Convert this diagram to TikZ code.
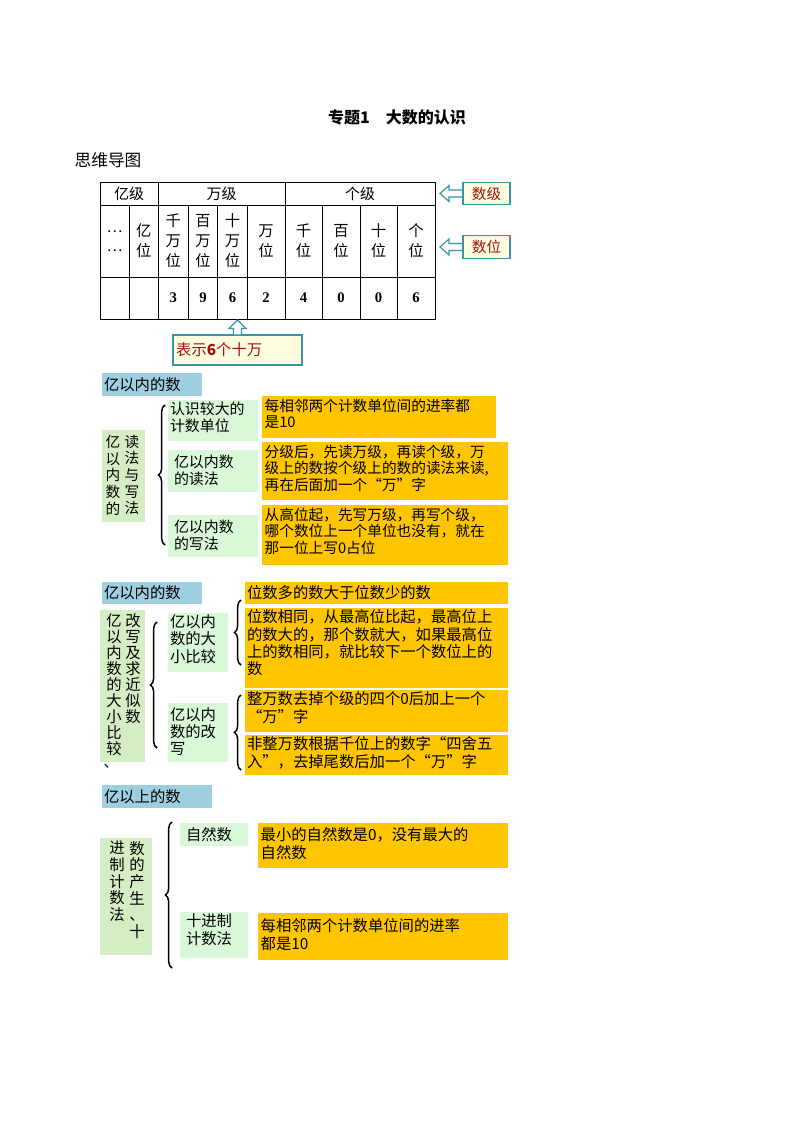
\documentclass[tikz,border=0pt]{standalone}
\usepackage{fontspec}
\usepackage{tikz}
\usetikzlibrary{fit,decorations.pathreplacing}
\setmainfont{Liberation Serif}
\newfontfamily\cjk{Noto Sans CJK SC}
\definecolor{TitleBlue}{HTML}{9DCFE0}
\definecolor{SideGreen}{HTML}{D5EDC4}
\definecolor{SubGreen}{HTML}{D8F8D8}
\definecolor{NoteGold}{HTML}{FFC600}
\definecolor{ArrowTeal}{HTML}{3A93A8}
\definecolor{NoteRed}{HTML}{A01010}
\newcommand\areabox[6]{\node[fit={(#2,#3) (#4,#5)}, inner sep=0pt, #6] (#1) {};}
\begin{document}
\begin{tikzpicture}[x=0.75pt, y=-0.75pt,
		grid/.style={draw, line width=0.6pt},
		headbox/.style={fill=TitleBlue},
		sidebox/.style={fill=SideGreen},
		subbox/.style={fill=SubGreen},
		notebox/.style={fill=NoteGold},
		txt/.style={font=\cjk\fontsize{11.2}{13}\selectfont, inner sep=1.5pt, align=left},
		notetxt/.style={font=\cjk\fontsize{11}{12.6}\selectfont, inner sep=2pt, align=left},
		bignote/.style={font=\cjk\fontsize{11.5}{12.8}\selectfont, inner sep=1.5pt, align=left},
		vcol/.style={font=\cjk\fontsize{11}{12.5}\selectfont, align=center, inner sep=0pt},
		brc/.style={decorate, decoration={brace, amplitude=5pt}, line width=1.1pt},
		blockarrow/.style={draw=ArrowTeal, fill=white, line width=0.9pt},
		callout/.style={draw=ArrowTeal, fill=yellow!12, line width=0.8pt}]
	\useasboundingbox (0,0) rectangle (794,1123);

	% heading
	\node[font=\cjk\bfseries\fontsize{12}{14}\selectfont] (title) at (397,117) {专题1\quad 大数的认识};
	\node[font=\cjk\fontsize{12.5}{14}\selectfont, anchor=west] (mind) at (70,160) {思维导图};

	% place value table
	\draw[grid] (100,182.7) rectangle (435,319);
	\draw[grid] (100,205) -- (435,205);
	\draw[grid] (100,277.3) -- (435,277.3);
	\foreach \cx in {129.3,188.3,217.7,247.3,322.3,360,397.3}
		\draw[grid] (\cx,205) -- (\cx,319);
	\foreach \cx in {158.3,285}
		\draw[grid] (\cx,182.7) -- (\cx,319);
	\node[txt] (levY) at (129.2,194) {亿级};
	\node[txt] (levW) at (221.6,194) {万级};
	\node[txt] (levG) at (360,194) {个级};
	\node[vcol] (pos0) at (114.6,241) {…\\[2pt]…};
	\foreach \name/\cx/\lbl in {p1/143.8/亿\\位, p3/266.1/万\\位, p4/303.6/千\\位, p5/341.1/百\\位, p6/378.6/十\\位, p7/416.1/个\\位}
		\node[vcol, font=\cjk\fontsize{11.5}{15}\selectfont] (\name) at (\cx,241) {\lbl};
	\foreach \name/\cx/\lbl in {q1/173.3/千\\万\\位, q2/203/百\\万\\位, q3/232.5/十\\万\\位}
		\node[vcol, font=\cjk\fontsize{11.5}{15}\selectfont] (\name) at (\cx,241) {\lbl};
	\foreach \name/\cx/\dig in {d1/173.3/3, d2/203/9, d3/232.5/6, d4/266.1/2, d5/303.6/4, d6/341.1/0, d7/378.6/0, d8/416.1/6}
		\node[font=\bfseries\fontsize{11}{13}\selectfont] (\name) at (\cx,298) {\dig};

	% labels with hollow arrows
	\node[callout, minimum width=35.25pt, minimum height=17pt, inner sep=0pt, text=NoteRed, font=\cjk\fontsize{11}{13}\selectfont] (ji) at (486.5,193.5) {数级};
	\node[callout, minimum width=35.25pt, minimum height=17pt, inner sep=0pt, text=NoteRed, font=\cjk\fontsize{11}{13}\selectfont] (wei) at (486.5,247) {数位};
	\draw[blockarrow] (440,193.5) -- (449,185.5) -- (449,190) -- (ji.west |- 0,190) -- (ji.west |- 0,197) -- (449,197) -- (449,201.5) -- cycle;
	\draw[blockarrow] (440,247) -- (449,239) -- (449,243.5) -- (wei.west |- 0,243.5) -- (wei.west |- 0,250.5) -- (449,250.5) -- (449,255) -- cycle;
	\node[callout, minimum width=96.75pt, minimum height=22.5pt, inner sep=2pt, text=NoteRed, font=\cjk\fontsize{11.5}{13}\selectfont, text width=92pt, align=left] (six) at (237.5,350) {表示\textbf{6}个十万};
	\draw[blockarrow] (237.5,320) -- (246,328.5) -- (241.5,328.5) -- (241.5,335) -- (233.5,335) -- (233.5,328.5) -- (229,328.5) -- cycle;

	% section 1
	\areabox{h1}{102}{373}{202}{396}{headbox}
	\node[txt, font=\cjk\fontsize{11.5}{13}\selectfont, anchor=west] at (h1.west) {亿以内的数};
	\areabox{s1}{102}{430}{145}{522}{sidebox}
	\node[vcol] (s1a) at (113,475) {亿\\以\\内\\数\\的};
	\node[vcol] (s1b) at (132,475) {读\\法\\与\\写\\法};
	\draw[brc] (165,545) -- (165,405);
	\areabox{a1}{168}{400}{258}{441}{subbox}
	\areabox{a2}{168}{450}{258}{492}{subbox}
	\areabox{a3}{168}{515}{258}{557}{subbox}
	\node[txt, anchor=north west] at (a1.north west) {认识较大的\\计数单位};
	\node[txt, anchor=north west] at ([xshift=3pt,yshift=-2pt]a2.north west) {亿以内数\\的读法};
	\node[txt, anchor=north west] at ([xshift=3pt,yshift=-2pt]a3.north west) {亿以内数\\的写法};
	\areabox{n1}{262}{396}{496}{438}{notebox}
	\areabox{n2}{262}{442}{508}{500}{notebox}
	\areabox{n3}{262}{505}{508}{565}{notebox}
	\node[notetxt, anchor=north west] at (n1.north west) {每相邻两个计数单位间的进率都\\是10};
	\node[notetxt, anchor=north west] at (n2.north west) {分级后，先读万级，再读个级，万\\级上的数按个级上的数的读法来读,\\再在后面加一个“万”字};
	\node[notetxt, anchor=north west] at (n3.north west) {从高位起，先写万级，再写个级，\\哪个数位上一个单位也没有，就在\\那一位上写0占位};

	% section 2
	\areabox{h2}{102}{582}{202}{604}{headbox}
	\node[txt, font=\cjk\fontsize{11.5}{13}\selectfont, anchor=west] at (h2.west) {亿以内的数};
	\areabox{s2}{100}{610}{145}{762}{sidebox}
	\node[vcol, font=\cjk\fontsize{11.5}{12}\selectfont, anchor=north] (s2a) at (114,613) {亿\\以\\内\\数\\的\\大\\小\\比\\较};
	\node[vcol, font=\cjk\fontsize{11.5}{12}\selectfont, anchor=north] (s2b) at (133,613) {改\\写\\及\\求\\近\\似\\数};
	\node[vcol, anchor=north] (s2c) at (111,764) {、};
	\draw[brc] (157,748) -- (157,622);
	\areabox{b1}{168}{613}{228}{672}{subbox}
	\areabox{b2}{168}{703}{228}{762}{subbox}
	\node[bignote, anchor=north west] at (b1.north west) {亿以内\\数的大\\小比较};
	\node[bignote, anchor=north west] at ([yshift=-2pt]b2.north west) {亿以内\\数的改\\写};
	\draw[brc] (241,665) -- (241,600);
	\draw[brc] (241,770) -- (241,695);
	\areabox{m1}{245}{582}{508}{604}{notebox}
	\areabox{m2}{245}{608}{508}{688}{notebox}
	\areabox{m3}{245}{690}{508}{732}{notebox}
	\areabox{m4}{245}{735}{508}{775}{notebox}
	\node[bignote, anchor=west] at (m1.west) {位数多的数大于位数少的数};
	\node[bignote, anchor=north west] at (m2.north west) {位数相同，从最高位比起，最高位上\\的数大的，那个数就大，如果最高位\\上的数相同，就比较下一个数位上的\\数};
	\node[bignote, anchor=north west] at (m3.north west) {整万数去掉个级的四个0后加上一个\\“万”字};
	\node[bignote, anchor=north west] at (m4.north west) {非整万数根据千位上的数字“四舍五\\入”，去掉尾数后加一个“万”字};

	% section 3
	\areabox{h3}{102}{785}{212}{808}{headbox}
	\node[txt, font=\cjk\fontsize{11.5}{13}\selectfont, anchor=west] at (h3.west) {亿以上的数};
	\areabox{s3}{100}{838}{152}{955}{sidebox}
	\node[vcol, font=\cjk\fontsize{11.5}{12.5}\selectfont, anchor=north] (s3a) at (117,841) {进\\制\\计\\数\\法};
	\node[vcol, font=\cjk\fontsize{11.5}{12.5}\selectfont, anchor=north] (s3b) at (137,841) {数\\的\\产\\生\\、\\十};
	\draw[brc] (172,968) -- (172,822);
	\areabox{c1}{180}{823}{248}{846}{subbox}
	\areabox{c2}{180}{912}{248}{958}{subbox}
	\node[txt, font=\cjk\fontsize{11.5}{13}\selectfont, anchor=west] at ([xshift=3pt]c1.west) {自然数};
	\node[txt, font=\cjk\fontsize{11.5}{13.5}\selectfont, anchor=north west] at ([xshift=3pt]c2.north west) {十进制\\计数法};
	\areabox{k1}{258}{823}{508}{868}{notebox}
	\areabox{k2}{258}{913}{508}{960}{notebox}
	\node[notetxt, font=\cjk\fontsize{11.5}{13.5}\selectfont, anchor=north west] at ([yshift=-1pt]k1.north west) {最小的自然数是0，没有最大的\\自然数};
	\node[notetxt, font=\cjk\fontsize{11.5}{13.5}\selectfont, anchor=north west] at ([yshift=-2pt]k2.north west) {每相邻两个计数单位间的进率\\都是10};
\end{tikzpicture}
\end{document}
